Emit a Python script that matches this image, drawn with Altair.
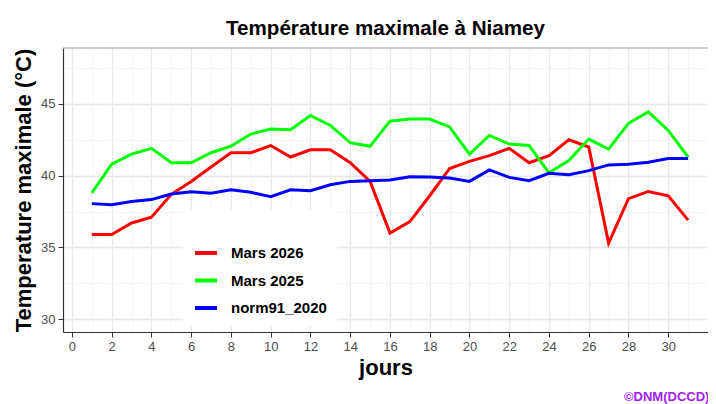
import altair as alt
import pandas as pd

# ---- data ----
days = list(range(1, 32))
mars_2026 = [35.9, 35.9, 36.7, 37.1, 38.7, 39.6, 40.6, 41.6, 41.6, 42.1, 41.3,
             41.8, 41.8, 40.9, 39.6, 36.0, 36.8, 38.6, 40.5, 41.0, 41.4, 41.9,
             40.9, 41.4, 42.5, 42.0, 35.3, 38.4, 38.9, 38.6, 36.9]
mars_2025 = [38.8, 40.8, 41.5, 41.9, 40.9, 40.9, 41.6, 42.05, 42.9, 43.25, 43.2,
             44.2, 43.5, 42.3, 42.05, 43.8, 43.95, 43.95, 43.4, 41.5, 42.8, 42.2,
             42.1, 40.2, 41.05, 42.55, 41.85, 43.65, 44.45, 43.15, 41.3]
norm91_2020 = [38.05, 37.98, 38.2, 38.33, 38.72, 38.88, 38.77, 39.02, 38.84, 38.54,
               39.02, 38.95, 39.37, 39.6, 39.65, 39.7, 39.93, 39.9, 39.84, 39.6,
               40.4, 39.88, 39.65, 40.16, 40.07, 40.35, 40.75, 40.8, 40.93, 41.2, 41.2]

series_names = ["Mars 2026", "Mars 2025", "norm91_2020"]
series_colors = ["#FF0000", "#00FF00", "#0000FF"]

x_grid_values = list(range(0, 33))      # major at even days, minor at odd
y_grid_values = [30, 32.5, 35, 37.5, 40, 42.5, 45, 47.5]

title_text = "Température maximale à Niamey"
y_title = "Temperature maximale (°C)"
x_title = "jours"
caption = "©DNM(DCCD)"

rows = []
for name, vals in zip(series_names, [mars_2026, mars_2025, norm91_2020]):
    for d, v in zip(days, vals):
        rows.append({"jour": d, "temp": v, "serie": name})
df = pd.DataFrame(rows)

FONT = "Liberation Sans"
W, H = 645, 284

x_major = "datum.value % 2 === 0 && datum.value <= 30"
y_major = "datum.value % 5 === 0"

x_axis = alt.Axis(
    values=x_grid_values,
    labelExpr=f"{x_major} ? datum.label : ''",
    labelOverlap=False, labelFlush=False,
    labelFont=FONT, labelFontSize=13, labelColor="#4D4D4D", labelPadding=3,
    tickOpacity={"condition": {"test": x_major, "value": 1}, "value": 0},
    tickColor="#333333", tickSize=5, tickWidth=1,
    domainColor="#333333", domainWidth=1.2,
    grid=True,
    gridColor={"condition": {"test": "datum.value % 2 === 0", "value": "#E8E8E8"}, "value": "#F2F2F2"},
    gridWidth={"condition": {"test": "datum.value % 2 === 0", "value": 1.3}, "value": 0.8},
    title=x_title, titleFont=FONT, titleFontSize=22, titleFontWeight="bold",
    titleColor="#000000", titlePadding=4,
)
y_axis = alt.Axis(
    values=y_grid_values,
    labelExpr=f"{y_major} ? datum.label : ''",
    labelOverlap=False, labelFlush=False,
    labelFont=FONT, labelFontSize=13, labelColor="#4D4D4D", labelPadding=3,
    tickOpacity={"condition": {"test": y_major, "value": 1}, "value": 0},
    tickColor="#333333", tickSize=5, tickWidth=1,
    domainColor="#333333", domainWidth=1.2,
    grid=True,
    gridColor={"condition": {"test": y_major, "value": "#E8E8E8"}, "value": "#F2F2F2"},
    gridWidth={"condition": {"test": y_major, "value": 1.3}, "value": 0.8},
    title=y_title, titleFont=FONT, titleFontSize=22, titleFontWeight="bold",
    titleColor="#000000", titlePadding=5,
)

lines = alt.Chart(df).mark_line(strokeWidth=3).encode(
    x=alt.X("jour:Q", scale=alt.Scale(domain=[-0.45, 32.0], nice=False, zero=False), axis=x_axis),
    y=alt.Y("temp:Q", scale=alt.Scale(domain=[29.1, 48.9], nice=False, zero=False), axis=y_axis),
    color=alt.Color(
        "serie:N",
        scale=alt.Scale(domain=series_names, range=series_colors),
        sort=series_names,
        legend=alt.Legend(
            orient="none", legendX=120, legendY=162,
            title=" ", titleFontSize=14, titlePadding=6,
            fillColor="white", padding=10,
            symbolType="stroke", symbolStrokeWidth=4, symbolSize=484,
            rowPadding=6.5, labelOffset=12,
            labelFont=FONT, labelFontSize=15, labelFontWeight="bold", labelColor="#000000",
        ),
    ),
    detail="serie:N",
)

top_border = alt.Chart(pd.DataFrame({"a": [0]})).mark_rule(color="#A0A0A0", strokeWidth=1).encode(
    x=alt.value(0), x2=alt.value(W), y=alt.value(0)
)

cap = alt.Chart(pd.DataFrame({"t": [caption]})).mark_text(
    align="left", baseline="middle", font=FONT, fontSize=13, fontWeight="bold", color="#A020F0"
).encode(x=alt.value(561), y=alt.value(349), text="t:N")

chart = alt.layer(lines, top_border, cap).properties(
    width=W, height=H,
    autosize=alt.AutoSizeParams(type="none"),
    padding={"left": 55, "top": 40, "right": 0, "bottom": 72},
    title=alt.TitleParams(title_text, font=FONT, fontSize=20.6, fontWeight="bold",
                          color="#000000", anchor="middle", offset=8),
).configure_view(stroke=None)

chart.save("out.html", embed_options={"renderer": "svg", "actions": False})
